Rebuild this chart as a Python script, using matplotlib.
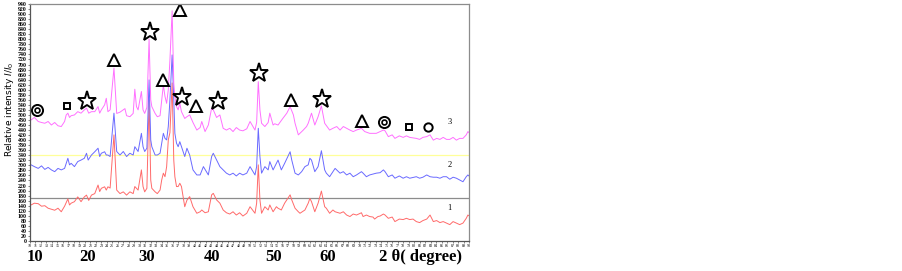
import matplotlib.pyplot as plt
import numpy as np

# 2-theta positions (degree) and relative intensity
deg3 = [10.0, 10.2, 10.8, 11.5, 12.1, 12.7, 13.3, 13.9, 14.5, 15.1, 15.7, 16.3, 16.6, 16.9, 17.2, 17.5,
        18.1, 18.7, 19.3, 19.9, 20.3, 20.7, 21.2, 21.8, 22.4, 22.7, 23.0, 23.6, 23.9, 24.2, 24.6,
        25.3, 25.8, 26.4, 27.3, 27.6, 28.2, 28.8, 29.1, 29.4, 29.7, 30.3, 30.6, 30.9, 31.3, 31.7,
        32.0, 32.2, 32.8, 33.2, 33.7, 34.0, 34.3, 34.6, 34.9, 35.2, 35.5, 35.9, 36.2, 36.4, 36.7,
        37.0, 37.3, 37.6, 38.2, 38.6, 39.1, 39.7, 40.4, 41.0, 41.3, 41.9, 42.5, 43.1, 43.4, 44.0,
        44.6, 45.2, 45.8, 46.4, 47.0, 47.6, 48.2, 48.8, 49.5, 50.1, 51.0, 51.3, 51.6, 51.9, 52.2,
        52.8, 53.4, 53.7, 54.3, 54.6, 55.2, 56.1, 56.8, 57.4, 58.0, 58.3, 58.9, 59.8, 60.4, 60.7,
        61.3, 61.9, 62.5, 63.1, 63.7, 64.6, 65.2, 65.9, 66.5, 67.1, 67.7, 68.3, 68.9, 69.5, 70.4,
        71.0, 71.9, 73.1, 73.8, 74.4, 74.7, 75.3, 76.0, 76.5, 77.3, 78.0, 78.6, 79.2, 80.4, 81.0,
        81.6, 82.3, 82.9, 83.5, 84.1, 84.7, 85.3, 85.9, 86.5, 87.1, 87.7, 88.3, 88.9, 89.5, 89.8, 90.0]
int3 = [485, 480, 490, 474, 470, 467, 474, 460, 470, 457, 454, 474, 500, 507, 490, 497,
        500, 513, 507, 520, 527, 507, 513, 513, 533, 507, 520, 540, 566, 513, 520,
        686, 506, 511, 525, 497, 493, 506, 602, 533, 520, 593, 520, 506, 530, 801,
        560, 533, 506, 493, 497, 560, 619, 573, 546, 600, 718, 913, 626, 573, 533,
        520, 546, 513, 486, 493, 500, 470, 440, 450, 474, 434, 460, 527, 520, 490,
        500, 447, 440, 447, 434, 450, 440, 437, 445, 474, 440, 470, 632, 520, 467,
        454, 470, 507, 460, 465, 460, 487, 507, 533, 500, 467, 421, 440, 454, 467,
        507, 460, 493, 536, 467, 440, 447, 454, 440, 454, 447, 440, 434, 440, 447,
        434, 427, 427, 434, 440, 437, 414, 421, 407, 417, 411, 417, 411, 407, 403,
        411, 414, 421, 400, 407, 403, 411, 403, 403, 411, 400, 407, 407, 421, 434, 430]

deg2 = [10.0, 10.2, 10.8, 11.5, 12.1, 12.7, 13.3, 13.9, 14.5, 15.1, 15.7, 16.3, 16.9, 17.2, 17.5,
        18.1, 18.7, 19.3, 19.9, 20.3, 20.6, 21.2, 21.8, 22.4, 22.7, 23.0, 23.6, 23.9, 24.2, 24.6,
        25.3, 25.8, 26.4, 27.0, 27.6, 28.2, 28.8, 29.1, 29.7, 30.3, 30.6, 30.9, 31.3, 31.7,
        32.0, 32.2, 32.8, 33.2, 33.7, 34.0, 34.3, 34.6, 34.9, 35.2, 35.5, 35.9, 36.2, 36.4, 36.7,
        37.0, 37.3, 37.6, 38.2, 38.6, 39.1, 39.7, 40.4, 41.0, 41.6, 42.5, 43.1, 43.4, 44.0,
        44.6, 45.2, 45.8, 46.4, 47.0, 47.6, 48.2, 48.8, 49.5, 50.1, 51.0, 51.3, 51.6, 51.9, 52.2,
        52.8, 53.4, 53.7, 54.3, 54.9, 55.2, 55.8, 56.4, 57.4, 57.7, 58.3, 58.9, 59.5, 60.1, 60.7,
        61.0, 61.3, 61.9, 62.5, 63.1, 63.7, 64.0, 64.6, 65.2, 65.6, 66.5, 67.1, 67.7, 68.3, 68.9,
        69.5, 70.4, 70.7, 71.3, 71.9, 73.1, 73.8, 74.4, 74.7, 75.3, 76.0, 76.5, 77.3, 78.0, 78.6,
        79.2, 80.4, 81.0, 81.6, 82.3, 82.9, 83.5, 84.1, 84.7, 85.3, 85.9, 86.5, 87.1, 87.7, 88.3,
        88.9, 89.5, 89.8, 90.0]
int2 = [305, 302, 295, 288, 298, 284, 292, 282, 275, 288, 282, 288, 328, 302, 308,
        295, 315, 321, 328, 348, 321, 341, 354, 368, 335, 348, 354, 341, 341, 335,
        507, 355, 341, 355, 335, 348, 341, 374, 355, 427, 374, 355, 368, 639,
        401, 374, 341, 341, 348, 388, 427, 407, 401, 454, 560, 738, 560, 427, 388,
        374, 394, 374, 335, 368, 341, 282, 262, 262, 295, 262, 335, 348, 321,
        295, 282, 269, 262, 269, 258, 269, 262, 269, 295, 262, 295, 447, 335, 269,
        295, 282, 315, 282, 308, 321, 282, 308, 354, 321, 269, 262, 275, 295, 302,
        328, 321, 275, 295, 358, 282, 269, 255, 275, 288, 269, 275, 262, 269, 255,
        262, 275, 269, 255, 262, 269, 271, 282, 275, 255, 262, 249, 258, 249, 255,
        249, 255, 249, 253, 262, 255, 253, 253, 249, 255, 255, 245, 253, 249, 242,
        235, 255, 262, 258]

deg1 = [10.0, 10.2, 10.8, 11.5, 12.1, 12.7, 13.3, 13.9, 14.5, 15.1, 15.7, 16.3, 16.9, 17.2, 17.5,
        18.1, 18.7, 19.3, 19.9, 20.3, 20.7, 21.2, 21.8, 22.4, 22.7, 23.0, 23.6, 23.9, 24.2, 24.6,
        25.3, 25.8, 26.4, 27.0, 27.6, 28.2, 28.8, 29.1, 29.7, 30.3, 30.6, 30.9, 31.3, 31.7,
        32.0, 32.2, 32.8, 33.2, 33.7, 34.0, 34.3, 34.6, 34.9, 35.2, 35.5, 35.9, 36.2, 36.4, 36.7,
        37.0, 37.3, 37.6, 38.2, 38.6, 39.1, 39.7, 40.4, 41.0, 41.3, 41.9, 42.5, 43.1, 43.4, 44.0,
        44.6, 45.2, 45.8, 46.4, 47.0, 47.6, 48.2, 48.8, 49.5, 50.1, 51.0, 51.3, 51.6, 51.9, 52.2,
        52.8, 53.4, 53.7, 54.3, 54.9, 55.2, 55.8, 56.4, 57.4, 57.7, 58.3, 58.9, 59.2, 60.1, 60.7,
        61.0, 61.3, 61.9, 62.5, 63.1, 63.7, 64.0, 64.6, 65.2, 65.6, 66.5, 67.1, 67.7, 68.3, 68.9,
        69.5, 70.4, 70.7, 71.3, 71.9, 72.5, 72.8, 73.4, 73.8, 74.4, 74.7, 75.3, 76.0, 76.5, 77.3,
        78.0, 78.6, 79.2, 79.8, 80.4, 81.0, 81.6, 82.3, 82.9, 83.5, 84.1, 84.7, 85.3, 85.9, 86.5,
        87.1, 87.7, 88.3, 88.9, 89.5, 89.8, 90.0]
int1 = [148, 143, 150, 148, 138, 140, 130, 126, 122, 130, 116, 138, 167, 143, 150,
        156, 175, 156, 175, 182, 161, 182, 188, 222, 196, 209, 215, 202, 215, 210,
        421, 202, 188, 195, 182, 195, 188, 216, 202, 282, 216, 195, 209, 560,
        242, 209, 195, 188, 202, 242, 269, 255, 295, 401, 430, 627, 321, 255, 216,
        216, 229, 216, 136, 162, 176, 136, 110, 116, 123, 112, 116, 183, 189, 163,
        150, 123, 112, 107, 116, 103, 112, 99, 110, 136, 110, 150, 302, 163, 110,
        136, 123, 143, 116, 136, 130, 123, 150, 183, 163, 130, 116, 110, 123, 150,
        169, 156, 116, 150, 198, 136, 130, 110, 123, 116, 110, 116, 103, 97, 107,
        103, 112, 97, 103, 97, 95, 87, 97, 99, 107, 103, 90, 95, 77, 87,
        85, 90, 85, 87, 77, 73, 81, 87, 103, 77, 81, 73, 77, 71, 65,
        77, 71, 65, 71, 90, 103, 100]

# phase symbols above pattern 3
sym_kind = ['dcirc', 'square', 'star', 'tri', 'star', 'tri', 'tri', 'star', 'tri', 'star',
            'star', 'tri', 'star', 'tri', 'dcirc', 'square', 'circ']
sym_deg = [11.3, 16.7, 20.4, 25.3, 31.9, 34.2, 37.3, 37.7, 40.2, 44.2,
           51.7, 57.5, 63.2, 70.5, 74.5, 79.0, 82.5]
sym_int = [520, 536, 556, 718, 829, 639, 917, 571, 536, 556,
           667, 560, 563, 476, 472, 452, 452]

curve_labels = ['1', '2', '3']
label_int = [131, 302, 472]
big_ticks = ['10', '20', '30', '40', '50', '60', '2 θ( degree)']
big_tick_px = [35, 88, 147, 212, 274, 328, 421]

fig = plt.figure(figsize=(9.03, 2.71), dpi=100)
ax = fig.add_axes([30 / 903, 30 / 271, 439 / 903, 237 / 271])

ax.axhline(170, color='#8c8c8c', lw=0.9)
ax.axhline(340, color='#ffff99', lw=0.9)
ax.plot(deg1, int1, color='#ff6a6a', lw=0.7)
ax.plot(deg2, int2, color='#6a6aff', lw=0.7)
ax.plot(deg3, int3, color='#ff70ff', lw=0.7)

marker_style = {'star': ('*', 14), 'tri': ('^', 9), 'square': ('s', 5),
                'circ': ('o', 6), 'dcirc': ('o', 8)}
for k, d, v in zip(sym_kind, sym_deg, sym_int):
    m, s = marker_style[k]
    ax.plot(d, v, marker=m, ms=s, mfc='white', mec='black', mew=1.4, ls='none')
    if k == 'dcirc':
        ax.plot(d, v, marker='o', ms=3.5, mfc='white', mec='black', mew=1.2, ls='none')

for t, v in zip(curve_labels, label_int):
    ax.text(86.5, v, t, fontsize=6, family='Liberation Serif', ha='center', va='center')

ax.set_xlim(10, 90)
ax.set_ylim(0, 940)
ax.set_xticks(np.arange(10, 91, 1))
ax.set_xticklabels([str(i) for i in range(10, 91)], fontsize=2.9,
                   family='Liberation Serif')
ax.set_yticks(np.arange(0, 941, 20))
ax.set_yticklabels([str(i) for i in range(0, 941, 20)], fontsize=4.2,
                   family='Liberation Serif', fontweight='bold')
ax.tick_params(axis='both', length=1.5, width=0.5, pad=1, color='#555555')
for sp in ax.spines.values():
    sp.set_color('#8c8c8c')
    sp.set_linewidth(0.9)
ax.spines['left'].set_color('#555555')
ax.spines['bottom'].set_color('#555555')

fig.text(10 / 903, 1 - 109 / 271, 'Relative intensity $I/I_0$', rotation=90,
         fontsize=6.5, ha='center', va='center')

for t, px in zip(big_ticks, big_tick_px):
    fig.text(px / 903, 1 - 257 / 271, t, fontsize=12, family='Liberation Serif',
             fontweight='bold', ha='center', va='center')

fig.savefig('out.png', dpi=100)
